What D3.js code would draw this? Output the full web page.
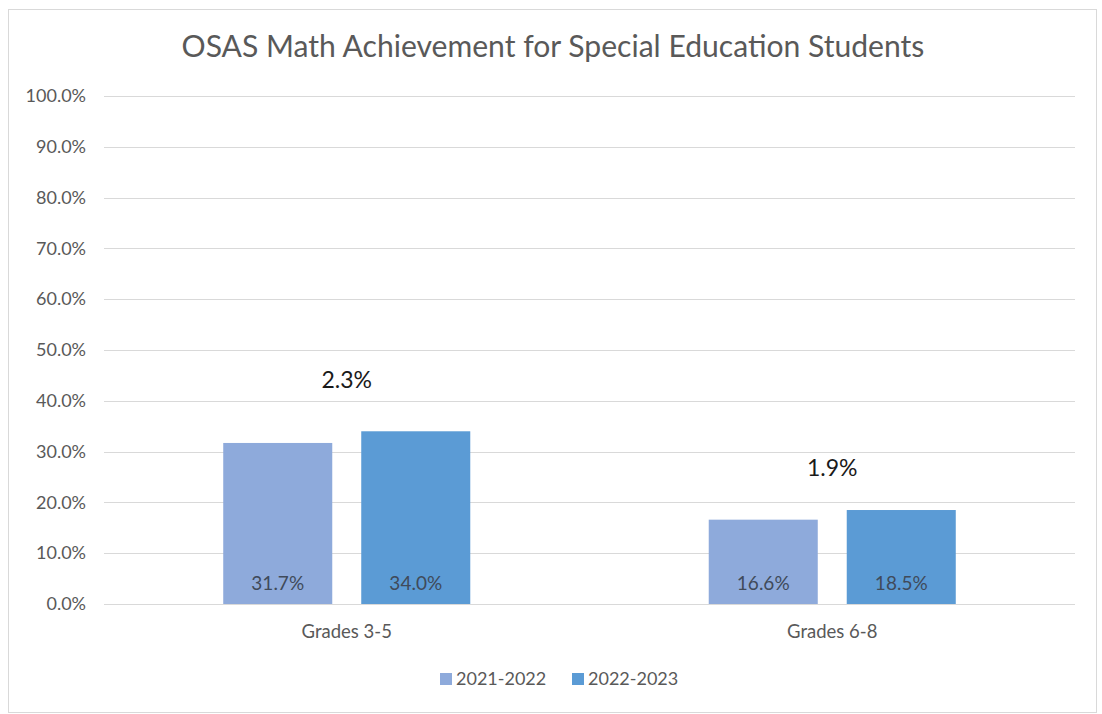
<!DOCTYPE html>
<html><head><meta charset="utf-8">
<script src="https://cdn.jsdelivr.net/npm/d3@7"></script>
<style>
html,body{margin:0;padding:0;background:#fff;}
svg{display:block;font-family:Lato,"Open Sans",sans-serif;}
</style></head>
<body>
<svg id="chart" width="1102" height="714"></svg>
<script>
const categories = ["Grades 3-5", "Grades 6-8"];
const seriesNames = ["2021-2022", "2022-2023"];
const values2021 = [31.7, 16.6];
const values2022 = [34.0, 18.5];
const changeLabels = ["2.3%", "1.9%"];
const yTicks = [0,10,20,30,40,50,60,70,80,90,100];
const colors = ["#8eaadb", "#5b9bd5"];

(function(){
const svg = d3.select("#chart");
svg.append("rect").attr("x",8.5).attr("y",9.5).attr("width",1088).attr("height",703)
  .attr("fill","#fff").attr("stroke","#d9d9d9");

svg.append("text").attr("x",553).attr("y",57).attr("text-anchor","middle")
  .attr("font-size",30.1).attr("fill","#595959")
  .text("OSAS Math Achievement for Special Education Students");

const pLeft=104, pRight=1075, pTop=96, pBottom=604;
const x0 = d3.scaleBand().domain(categories).range([pLeft,pRight]);
const x1 = d3.scaleBand().domain(seriesNames).range([0,x0.bandwidth()]).paddingInner(0.21).paddingOuter(0.864);
const y = d3.scaleLinear().domain([0,100]).range([pBottom,pTop]);

// gridlines
svg.append("g").selectAll("line").data(yTicks).join("line")
  .attr("x1",pLeft).attr("x2",pRight)
  .attr("y1",d=>Math.round(y(d))+0.5).attr("y2",d=>Math.round(y(d))+0.5)
  .attr("stroke","#d9d9d9").attr("stroke-width",1);

// y axis labels
const yAxis = d3.axisLeft(y).tickValues(yTicks).tickSize(0).tickPadding(0)
  .tickFormat(d=>d3.format(".1f")(d)+"%");
const gy = svg.append("g").attr("transform",`translate(86,0)`).call(yAxis);
gy.select(".domain").remove();
gy.selectAll("text").attr("font-size",18).attr("fill","#595959").attr("font-family","Lato,'Open Sans',sans-serif");

// bars
const rows = categories.map((c,i)=>({cat:c, vals:[values2021[i], values2022[i]], change:changeLabels[i]}));
const g = svg.append("g");
rows.forEach(r=>{
  r.vals.forEach((v,j)=>{
    const bx = x0(r.cat)+x1(seriesNames[j]);
    g.append("rect").attr("x",bx).attr("y",y(v)).attr("width",x1.bandwidth())
      .attr("height",y(0)-y(v)).attr("fill",colors[j]);
    g.append("text").attr("x",bx+x1.bandwidth()/2).attr("y",y(0)-14)
      .attr("text-anchor","middle").attr("font-size",19).attr("fill","#404a5a")
      .text(d3.format(".1f")(v)+"%");
  });
});
// change annotations
const annotOffset = [52, 43];
rows.forEach((r,i)=>{
  const maxV = d3.max(r.vals);
  svg.append("text").attr("x",x0(r.cat)+x0.bandwidth()/2).attr("y",y(maxV)-annotOffset[i]+9)
    .attr("text-anchor","middle").attr("font-size",23).attr("fill","#1a1a1a").text(r.change);
});

// x axis labels
const xAxis = d3.axisBottom(x0).tickSize(0).tickPadding(0);
const gx = svg.append("g").attr("transform",`translate(0,${pBottom+34})`).call(xAxis);
gx.select(".domain").remove();
gx.selectAll("text").attr("font-size",18.5).attr("fill","#595959").attr("dy",0).attr("font-family","Lato,'Open Sans',sans-serif");

// legend
const legX = [440, 572];
seriesNames.forEach((s,i)=>{
  svg.append("rect").attr("x",legX[i]).attr("y",673).attr("width",12).attr("height",12).attr("fill",colors[i]);
  svg.append("text").attr("x",legX[i]+16).attr("y",685).attr("font-size",18).attr("fill","#595959").text(s);
});
})();
</script>
</body></html>
